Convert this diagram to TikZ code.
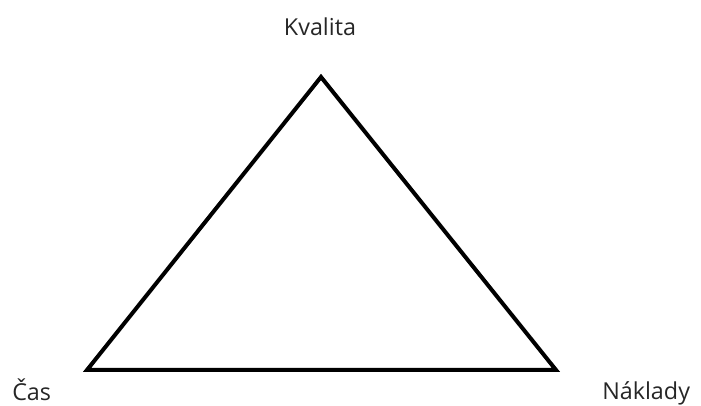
\documentclass[tikz,border=0pt]{standalone}
\usepackage{fontspec}
\setmainfont{Open Sans}
\usetikzlibrary{positioning}

\begin{document}
\begin{tikzpicture}[
    x=0.75pt, y=-0.75pt,
    label/.style={font=\fontsize{17.5}{20}\selectfont, text=black!85, inner sep=0pt},
    edge/.style={line width=3pt, line join=miter, black}
]
\useasboundingbox (0,0) rectangle (701,406);

% corners of the triangle
\coordinate (top) at (321,77);
\coordinate (left) at (87,370);
\coordinate (right) at (556,370);

% labels
\node[label, anchor=base] (kvalita) at (320,36) {Kvalita};
\node[label, anchor=base west] (cas) at (12,401) {Čas};
\node[label, anchor=base west] (naklady) at (602,400) {Náklady};

% triangle
\draw[edge] (top) -- (right) -- (left) -- cycle;

\end{tikzpicture}
\end{document}
